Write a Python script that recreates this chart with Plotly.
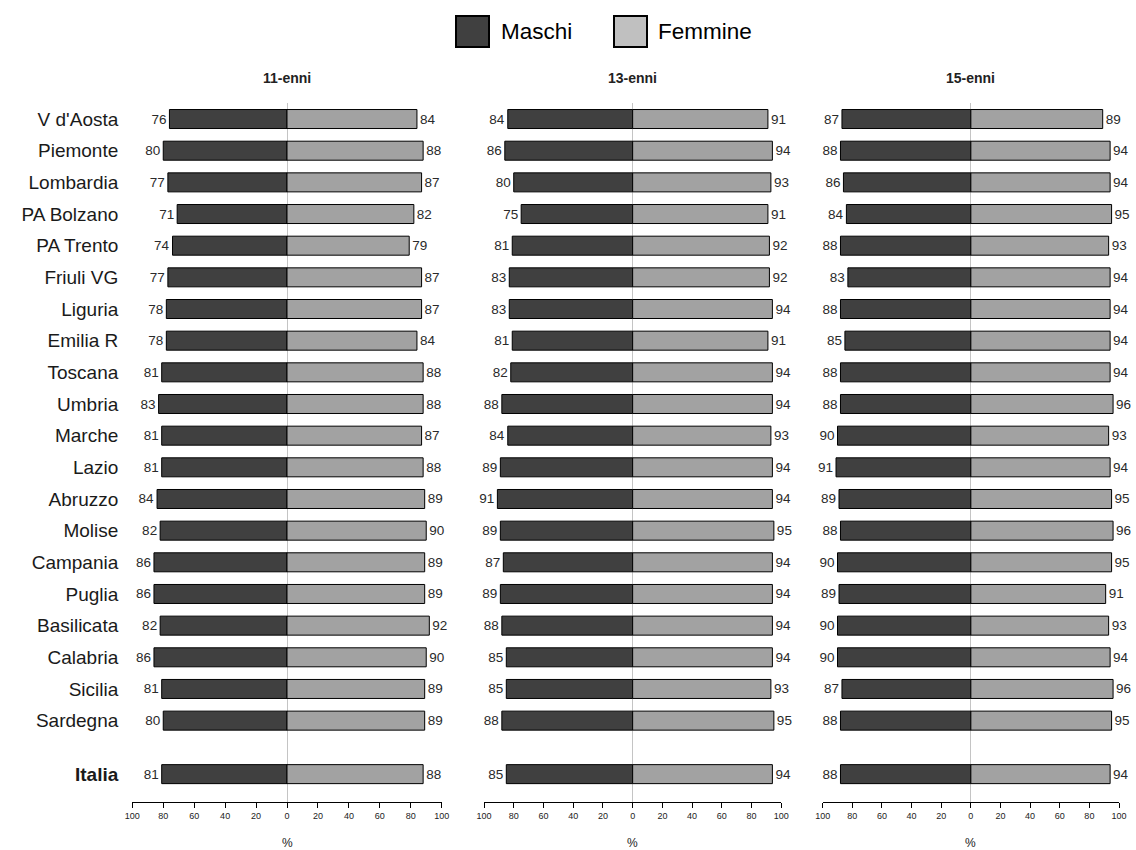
import plotly.graph_objects as go

regions = ["V d'Aosta", "Piemonte", "Lombardia", "PA Bolzano", "PA Trento", "Friuli VG",
           "Liguria", "Emilia R", "Toscana", "Umbria", "Marche", "Lazio", "Abruzzo",
           "Molise", "Campania", "Puglia", "Basilicata", "Calabria", "Sicilia", "Sardegna"]
total_label = "Italia"

panels = ["11-enni", "13-enni", "15-enni"]

maschi_11 = [76, 80, 77, 71, 74, 77, 78, 78, 81, 83, 81, 81, 84, 82, 86, 86, 82, 86, 81, 80, 81]
femmine_11 = [84, 88, 87, 82, 79, 87, 87, 84, 88, 88, 87, 88, 89, 90, 89, 89, 92, 90, 89, 89, 88]
maschi_13 = [84, 86, 80, 75, 81, 83, 83, 81, 82, 88, 84, 89, 91, 89, 87, 89, 88, 85, 85, 88, 85]
femmine_13 = [91, 94, 93, 91, 92, 92, 94, 91, 94, 94, 93, 94, 94, 95, 94, 94, 94, 94, 93, 95, 94]
maschi_15 = [87, 88, 86, 84, 88, 83, 88, 85, 88, 88, 90, 91, 89, 88, 90, 89, 90, 90, 87, 88, 88]
femmine_15 = [89, 94, 94, 95, 93, 94, 94, 94, 94, 96, 93, 94, 95, 96, 95, 91, 93, 94, 96, 95, 94]

tick_vals = [-100, -80, -60, -40, -20, 0, 20, 40, 60, 80, 100]
tick_text = ["100", "80", "60", "40", "20", "0", "20", "40", "60", "80", "100"]

W, H = 1136, 850
FONT = "Arial, 'Liberation Sans', sans-serif"
C_M = "#404040"
C_F = "#a2a2a2"

# row positions (Italia separated by a gap)
ypos = list(range(len(regions))) + [len(regions) + 0.69]
ytext = regions + ["<b>" + total_label + "</b>"]

data_m = [maschi_11, maschi_13, maschi_15]
data_f = [femmine_11, femmine_13, femmine_15]

x_domains = [[132.3 / W, 441.7 / W], [484.0 / W, 781.3 / W], [822.7 / W, 1119.0 / W]]
y_domain = [1 - 802.0 / H, 1 - 103.2 / H]

fig = go.Figure()
for i in range(3):
    xa = "x" if i == 0 else "x%d" % (i + 1)
    fig.add_trace(go.Bar(
        x=[-v for v in data_m[i]], y=ypos, orientation="h", xaxis=xa, yaxis="y",
        width=0.6, marker=dict(color=C_M, line=dict(color="#000000", width=1)),
        text=[str(v) for v in data_m[i]], textposition="outside", constraintext="none",
        textfont=dict(family=FONT, size=13.5, color="#2a2a2a"), cliponaxis=False,
        name="Maschi", showlegend=False, hoverinfo="skip"))
    fig.add_trace(go.Bar(
        x=data_f[i], y=ypos, orientation="h", xaxis=xa, yaxis="y",
        width=0.6, marker=dict(color=C_F, line=dict(color="#000000", width=1)),
        text=[str(v) for v in data_f[i]], textposition="outside", constraintext="none",
        textfont=dict(family=FONT, size=13.5, color="#2a2a2a"), cliponaxis=False,
        name="Femmine", showlegend=False, hoverinfo="skip"))

layout = dict(
    template="none",
    width=W, height=H, margin=dict(l=0, r=0, t=0, b=0, pad=0), autosize=False,
    paper_bgcolor="white", plot_bgcolor="white",
    barmode="overlay", showlegend=False,
    font=dict(family=FONT, color="#222222"),
    yaxis=dict(domain=y_domain, range=[21.57, -0.5], anchor="x", automargin=False,
               tickvals=ypos, ticktext=ytext, showgrid=False, zeroline=False,
               showline=False, ticks="", ticklabelstandoff=13,
               tickfont=dict(family=FONT, size=19, color="#1a1a1a")),
)
annotations = []
for i in range(3):
    key = "xaxis" if i == 0 else "xaxis%d" % (i + 1)
    layout[key] = dict(
        domain=x_domains[i], range=[-100, 100], anchor="y", automargin=False,
        tickvals=tick_vals, ticktext=tick_text, showgrid=False,
        zeroline=True, zerolinecolor="#c4c4c4", zerolinewidth=1,
        showline=True, linecolor="#000000", linewidth=1,
        ticks="outside", ticklen=5, tickcolor="#000000", tickwidth=1,
        tickfont=dict(family=FONT, size=9, color="#222222"))
    xref = "x" if i == 0 else "x%d" % (i + 1)
    annotations.append(dict(x=0, xref=xref, y=1 - 78.0 / H, yref="paper",
                            text="<b>" + panels[i] + "</b>", showarrow=False,
                            xanchor="center", yanchor="middle",
                            font=dict(family=FONT, size=14, color="#222222")))
    annotations.append(dict(x=0, xref=xref, y=1 - 843.0 / H, yref="paper",
                            text="%", showarrow=False, xanchor="center", yanchor="middle",
                            font=dict(family=FONT, size=12, color="#222222")))

# legend
shapes = [
    dict(type="rect", xref="paper", yref="paper", x0=456 / W, x1=489 / W,
         y0=1 - 47.0 / H, y1=1 - 16.0 / H, fillcolor=C_M, line=dict(color="#000000", width=2)),
    dict(type="rect", xref="paper", yref="paper", x0=614 / W, x1=647 / W,
         y0=1 - 47.0 / H, y1=1 - 16.0 / H, fillcolor="#c0c0c0", line=dict(color="#000000", width=2)),
]
annotations.append(dict(x=499 / W, y=1 - 31.0 / H, xref="paper", yref="paper", text="Maschi",
                        showarrow=False, xanchor="left", yanchor="middle",
                        font=dict(family=FONT, size=22.5, color="#000000")))
annotations.append(dict(x=656 / W, y=1 - 31.0 / H, xref="paper", yref="paper", text="Femmine",
                        showarrow=False, xanchor="left", yanchor="middle",
                        font=dict(family=FONT, size=22.5, color="#000000")))
layout["annotations"] = annotations
layout["shapes"] = shapes

fig.update_layout(**layout)

fig.write_html("out.html", config={"displayModeBar": False},
               post_script="document.body.style.margin='0';document.body.style.overflow='hidden';")
